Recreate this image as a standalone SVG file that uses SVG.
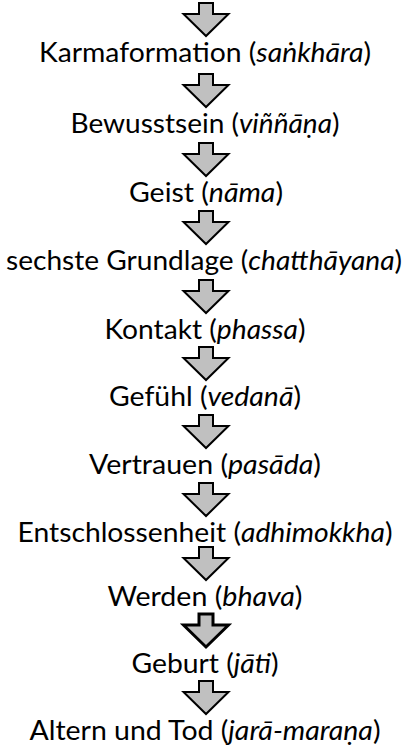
<svg xmlns="http://www.w3.org/2000/svg" width="406" height="746" viewBox="0 0 406 746">
<style>
text{font-family:"Lato","Open Sans","Noto Sans",sans-serif;font-size:27px;fill:#000;text-anchor:middle}
.i{font-style:italic}
.arr{fill:#c0c0c0;stroke:#000;stroke-width:2;stroke-linejoin:miter}
.arr.b{stroke-width:3}
</style>
<defs>
<path id="ba" d="M-7,0 H7 V11 H22.5 L0,33 L-22.5,11 H-7 Z"/>
</defs>
<rect width="406" height="746" fill="#fff"/>
<g id="connectors">
<use href="#ba" class="arr" transform="translate(206,3)"/>
<use href="#ba" class="arr" transform="translate(206,74)"/>
<use href="#ba" class="arr" transform="translate(206,143)"/>
<use href="#ba" class="arr" transform="translate(206,211)"/>
<use href="#ba" class="arr" transform="translate(206,280)"/>
<use href="#ba" class="arr" transform="translate(206,347)"/>
<use href="#ba" class="arr" transform="translate(206,415)"/>
<use href="#ba" class="arr" transform="translate(206,483)"/>
<use href="#ba" class="arr" transform="translate(206,547)"/>
<use href="#ba" class="arr b" transform="translate(206,614)"/>
<use href="#ba" class="arr" transform="translate(206,681)"/>
</g>
<g id="n1"><text x="205" y="62" textLength="332" lengthAdjust="spacingAndGlyphs">Karmaformation (<tspan class="i">saṅkhāra</tspan>)</text></g>
<g id="n2"><text x="205" y="133" textLength="269" lengthAdjust="spacingAndGlyphs">Bewusstsein (<tspan class="i">viññāṇa</tspan>)</text></g>
<g id="n3"><text x="206" y="202" textLength="154" lengthAdjust="spacingAndGlyphs">Geist (<tspan class="i">nāma</tspan>)</text></g>
<g id="n4"><text x="204" y="270" textLength="396" lengthAdjust="spacingAndGlyphs">sechste Grundlage (<tspan class="i">chatthāyana</tspan>)</text></g>
<g id="n5"><text x="205" y="339" textLength="201" lengthAdjust="spacingAndGlyphs">Kontakt (<tspan class="i">phassa</tspan>)</text></g>
<g id="n6"><text x="205" y="406" textLength="192" lengthAdjust="spacingAndGlyphs">Gefühl (<tspan class="i">vedanā</tspan>)</text></g>
<g id="n7"><text x="205" y="474" textLength="232" lengthAdjust="spacingAndGlyphs">Vertrauen (<tspan class="i">pasāda</tspan>)</text></g>
<g id="n8"><text x="205" y="542" textLength="375" lengthAdjust="spacingAndGlyphs">Entschlossenheit (<tspan class="i">adhimokkha</tspan>)</text></g>
<g id="n9"><text x="205" y="606" textLength="195" lengthAdjust="spacingAndGlyphs">Werden (<tspan class="i">bhava</tspan>)</text></g>
<g id="n10"><text x="205" y="673" textLength="147" lengthAdjust="spacingAndGlyphs">Geburt (<tspan class="i">jāti</tspan>)</text></g>
<g id="n11"><text x="205" y="740" textLength="351" lengthAdjust="spacingAndGlyphs">Altern und Tod (<tspan class="i">jarā-maraṇa</tspan>)</text></g>
</svg>
